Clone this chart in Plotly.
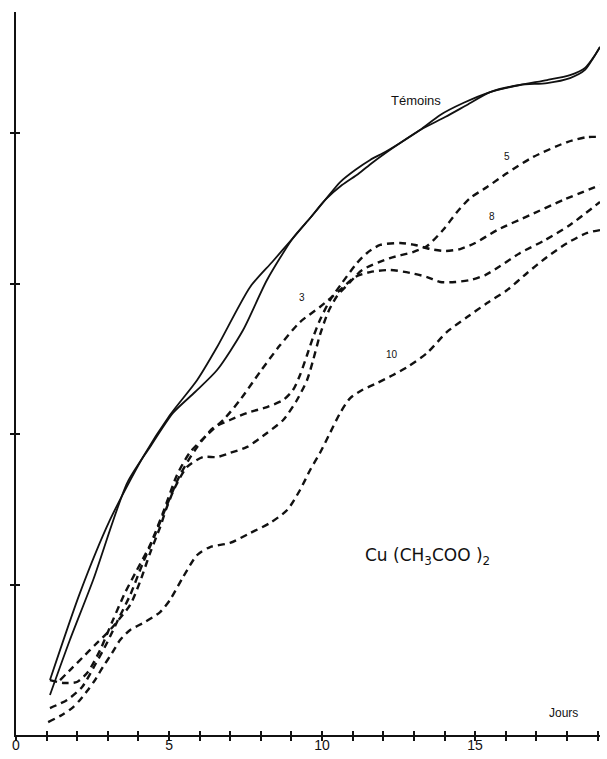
import plotly.graph_objects as go

# ---- data (x = jours, y = arbitrary growth units) ----
temoins_a_x = [1.11, 2.09, 3.07, 4.15, 5.03, 5.92, 6.57, 7.65, 8.37, 9.05, 9.61, 10.10, 10.59, 11.08, 11.57, 12.06, 12.55, 13.20, 13.86, 14.61, 15.49, 16.47, 17.35, 18.10, 18.59, 18.92, 19.08]
temoins_a_y = [0.365, 0.944, 1.429, 1.847, 2.126, 2.359, 2.578, 2.977, 3.143, 3.302, 3.435, 3.555, 3.674, 3.754, 3.821, 3.874, 3.934, 4.020, 4.120, 4.199, 4.272, 4.319, 4.352, 4.385, 4.432, 4.518, 4.571]

temoins_b_x = [1.11, 1.76, 2.52, 3.63, 4.38, 5.13, 5.85, 6.57, 7.42, 8.20, 9.05, 9.61, 10.10, 10.65, 11.18, 11.63, 12.12, 12.55, 13.20, 14.02, 14.67, 15.49, 16.47, 17.35, 18.10, 18.59, 18.86, 19.08]
temoins_b_y = [0.266, 0.631, 1.030, 1.674, 1.914, 2.140, 2.279, 2.425, 2.691, 3.023, 3.302, 3.435, 3.555, 3.654, 3.728, 3.801, 3.874, 3.934, 4.020, 4.106, 4.179, 4.272, 4.319, 4.332, 4.365, 4.419, 4.498, 4.571]

c3_x = [1.11, 1.54, 1.99, 2.35, 2.75, 3.14, 3.56, 3.95, 4.38, 4.80, 5.26, 5.69, 6.24, 6.83, 7.32, 7.97, 8.63, 9.28, 9.93, 10.59, 11.08, 11.57, 12.22, 12.88, 13.43, 13.86, 14.35, 14.84, 15.33, 15.82, 16.47, 17.29, 18.10, 19.08]
c3_y = [0.365, 0.346, 0.352, 0.419, 0.565, 0.751, 0.944, 1.096, 1.262, 1.475, 1.728, 1.880, 1.993, 2.106, 2.226, 2.412, 2.591, 2.744, 2.844, 2.957, 3.043, 3.076, 3.090, 3.070, 3.043, 3.010, 3.010, 3.023, 3.056, 3.116, 3.203, 3.289, 3.389, 3.542]

c8_x = [1.11, 1.67, 2.16, 2.58, 2.97, 3.33, 3.73, 4.12, 4.54, 4.93, 5.36, 5.85, 6.44, 6.99, 7.55, 8.20, 8.73, 9.05, 9.28, 9.51, 9.71, 9.93, 10.26, 10.65, 11.14, 11.47, 11.90, 12.55, 13.04, 13.53, 14.02, 14.51, 15.00, 15.72, 16.80, 17.88, 19.08]
c8_y = [0.179, 0.233, 0.319, 0.465, 0.611, 0.764, 0.930, 1.130, 1.329, 1.528, 1.728, 1.894, 2.040, 2.093, 2.140, 2.179, 2.226, 2.292, 2.392, 2.525, 2.645, 2.757, 2.890, 3.003, 3.136, 3.203, 3.256, 3.269, 3.256, 3.229, 3.216, 3.229, 3.269, 3.355, 3.455, 3.555, 3.654]

c5_x = [1.44, 1.83, 2.19, 2.58, 3.01, 3.40, 3.73, 4.05, 4.38, 4.71, 4.93, 5.20, 5.59, 6.11, 6.57, 6.99, 7.55, 8.20, 8.73, 9.18, 9.51, 9.71, 9.93, 10.20, 10.49, 10.92, 11.31, 12.22, 12.97, 13.43, 13.95, 14.41, 14.84, 15.39, 16.05, 16.90, 18.01, 18.66, 19.08]
c5_y = [0.365, 0.445, 0.518, 0.598, 0.684, 0.777, 0.864, 1.017, 1.209, 1.382, 1.515, 1.648, 1.781, 1.847, 1.847, 1.874, 1.914, 2.007, 2.093, 2.226, 2.359, 2.492, 2.658, 2.811, 2.917, 3.010, 3.090, 3.169, 3.209, 3.249, 3.355, 3.475, 3.568, 3.641, 3.734, 3.841, 3.940, 3.973, 3.973]

c10_x = [1.05, 1.50, 1.83, 2.09, 2.35, 2.58, 2.84, 3.14, 3.40, 3.73, 4.22, 4.71, 5.03, 5.46, 5.92, 6.34, 6.99, 7.65, 8.30, 8.86, 9.28, 9.61, 9.93, 10.26, 10.59, 10.92, 11.31, 11.80, 12.32, 12.78, 13.43, 14.08, 14.74, 15.39, 16.05, 16.70, 17.35, 18.01, 18.66, 19.08]
c10_y = [0.086, 0.133, 0.179, 0.233, 0.299, 0.365, 0.452, 0.545, 0.631, 0.698, 0.751, 0.817, 0.897, 1.050, 1.196, 1.249, 1.276, 1.342, 1.409, 1.495, 1.628, 1.761, 1.874, 2.007, 2.140, 2.239, 2.292, 2.339, 2.392, 2.445, 2.538, 2.678, 2.777, 2.870, 2.957, 3.070, 3.176, 3.269, 3.336, 3.355]

x_label_vals = [0, 5, 10, 15]
x_label_text = ["0", "5", "10", "15"]
x_tick_vals = list(range(0, 20))
y_tick_vals = [1, 2, 3, 4]

ink = "#111111"
font_family = "Liberation Sans, Arial, sans-serif"

fig = go.Figure()

for xs, ys in [(temoins_a_x, temoins_a_y), (temoins_b_x, temoins_b_y)]:
    fig.add_trace(go.Scatter(x=xs, y=ys, mode="lines",
                             line=dict(color=ink, width=1.8, shape="spline", smoothing=0.7),
                             showlegend=False, hoverinfo="skip"))

for xs, ys in [(c3_x, c3_y), (c8_x, c8_y), (c5_x, c5_y), (c10_x, c10_y)]:
    fig.add_trace(go.Scatter(x=xs, y=ys, mode="lines",
                             line=dict(color=ink, width=2.4, dash="7px,5px", shape="spline", smoothing=0.7),
                             showlegend=False, hoverinfo="skip"))

# invisible trace on the overlay axes so they render
fig.add_trace(go.Scatter(x=[0], y=[0], xaxis="x2", yaxis="y2", mode="markers",
                         marker=dict(opacity=0), showlegend=False, hoverinfo="skip"))

xr = [0, 19.08]
yr = [0, 4.804]

fig.update_layout(
    width=607, height=759,
    margin=dict(l=16, r=7, t=12, b=24),
    paper_bgcolor="white", plot_bgcolor="white",
    font=dict(family=font_family, color=ink),
    # main axes: lines + outward half of the cross ticks
    xaxis=dict(range=xr, showgrid=False, zeroline=False, showline=True, linecolor=ink, linewidth=2,
               automargin=False,
               tickmode="array", tickvals=x_tick_vals, showticklabels=False,
               ticks="outside", ticklen=4, tickwidth=1.5, tickcolor=ink),
    yaxis=dict(range=yr, showgrid=False, zeroline=False, showline=True, linecolor=ink, linewidth=2,
               automargin=False,
               tickmode="array", tickvals=y_tick_vals, showticklabels=False,
               ticks="outside", ticklen=4, tickwidth=1.5, tickcolor=ink),
    # overlay axes: inward half of the cross ticks, and the day labels
    xaxis2=dict(range=xr, overlaying="x", showgrid=False, zeroline=False, showline=False,
                automargin=False, side="bottom",
                tickmode="array", tickvals=x_label_vals, ticktext=x_label_text,
                ticks="inside", ticklen=4, tickwidth=1.5, tickcolor=ink,
                minor=dict(dtick=1, tick0=0, ticks="inside", ticklen=4, tickwidth=1.5, tickcolor=ink),
                tickfont=dict(size=14, color=ink, family=font_family)),
    yaxis2=dict(range=yr, overlaying="y", showgrid=False, zeroline=False, showline=False,
                automargin=False, side="left",
                tickmode="array", tickvals=y_tick_vals, showticklabels=False,
                ticks="inside", ticklen=4, tickwidth=1.5, tickcolor=ink),
)

labels = [
    (13.07, 4.219, "Témoins", 13),
    (16.05, 3.841, "5", 10),
    (15.56, 3.442, "8", 10),
    (9.35, 2.910, "3", 10),
    (12.29, 2.525, "10", 10),
    (17.88, 0.146, "Jours", 12),
]
for lx, ly, txt, sz in labels:
    fig.add_annotation(x=lx, y=ly, text=txt, showarrow=False,
                       font=dict(size=sz, color=ink, family=font_family))

fig.add_annotation(x=13.43, y=1.183, text="Cu (CH<sub>3</sub>COO )<sub>2</sub>", showarrow=False,
                   font=dict(size=17, color=ink, family="DejaVu Sans, sans-serif"))

fig.write_html("out.html")
